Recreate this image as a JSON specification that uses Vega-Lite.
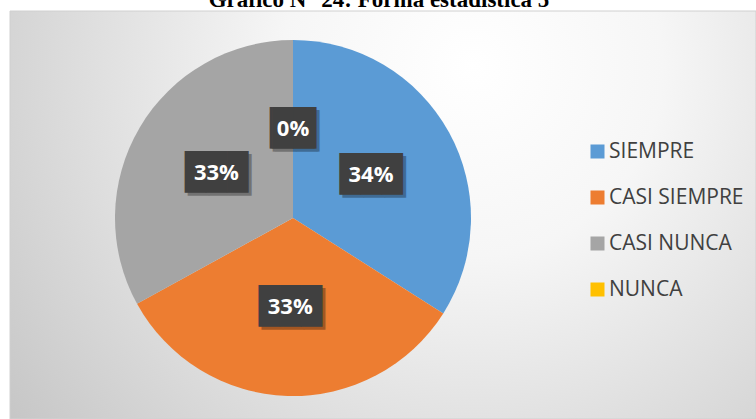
{
  "$schema": "https://vega.github.io/schema/vega-lite/v6.json",
  "autosize": {"type": "none"},
  "padding": {"left": 10, "top": 11, "right": 0, "bottom": 0},
  "width": 746,
  "height": 408,
  "background": "#ffffff",
  "title": {
    "text": "Gráfico N° 24: Forma estadística 5",
    "font": "Liberation Serif",
    "fontSize": 23,
    "fontWeight": "bold",
    "color": "#000000",
    "anchor": "middle",
    "offset": 4,
    "dy": 5,
    "dx": -4
  },
  "config": {
    "view": {"stroke": null},
    "legend": {
      "orient": "none",
      "legendX": 577,
      "legendY": 130,
      "padding": 0,
      "symbolType": "square",
      "symbolSize": 196,
      "symbolStrokeWidth": 0,
      "labelFont": "Open Sans",
      "labelFontSize": 21,
      "labelColor": "#404040",
      "labelOffset": 1,
      "rowPadding": 24
    }
  },
  "data": {
    "values": [
      {"categoria": "SIEMPRE", "orden": 1, "pct": 0.34},
      {"categoria": "CASI SIEMPRE", "orden": 2, "pct": 0.33},
      {"categoria": "CASI NUNCA", "orden": 3, "pct": 0.33},
      {"categoria": "NUNCA", "orden": 4, "pct": 0.0}
    ]
  },
  "layer": [
    {
      "data": {"values": [{"fondo": 1}]},
      "mark": {
        "type": "rect",
        "stroke": "#d0d0d0",
        "strokeWidth": 1,
        "color": {
          "gradient": "radial",
          "x1": 0.62, "y1": 0.3, "r1": 0,
          "x2": 0.62, "y2": 0.3, "r2": 0.85,
          "stops": [
            {"offset": 0, "color": "#ffffff"},
            {"offset": 0.3, "color": "#f6f6f6"},
            {"offset": 1, "color": "#c0c0c0"}
          ]
        }
      },
      "encoding": {}
    },
    {
      "mark": {"type": "arc", "outerRadius": 178, "xOffset": -90, "yOffset": 3},
      "encoding": {
        "theta": {"field": "pct", "type": "quantitative", "stack": true},
        "order": {"field": "orden", "type": "quantitative"},
        "color": {
          "field": "categoria",
          "type": "nominal",
          "title": null,
          "scale": {
            "domain": ["SIEMPRE", "CASI SIEMPRE", "CASI NUNCA", "NUNCA"],
            "range": ["#5B9BD5", "#ED7D31", "#A5A5A5", "#FFC000"]
          }
        }
      }
    },
    {
      "mark": {"type": "text", "font": "DejaVu Sans Mono", "fontSize": 35, "color": "#000000", "opacity": 0.3, "radius": 89, "xOffset": -87, "yOffset": 6, "align": "center", "baseline": "middle"},
      "encoding": {
        "theta": {"field": "pct", "type": "quantitative", "stack": true},
        "order": {"field": "orden", "type": "quantitative"},
        "text": {"condition": {"test": "datum.pct === 0", "value": "▕██▏"}, "value": "███"}
      }
    },
    {
      "mark": {"type": "text", "font": "DejaVu Sans Mono", "fontSize": 35, "color": "#404040", "radius": 89, "xOffset": -90, "yOffset": 3, "align": "center", "baseline": "middle"},
      "encoding": {
        "theta": {"field": "pct", "type": "quantitative", "stack": true},
        "order": {"field": "orden", "type": "quantitative"},
        "text": {"condition": {"test": "datum.pct === 0", "value": "▕██▏"}, "value": "███"}
      }
    },
    {
      "mark": {"type": "text", "font": "Open Sans", "fontSize": 22, "fontWeight": "bold", "color": "#ffffff", "radius": 89, "xOffset": -90, "yOffset": 3, "align": "center", "baseline": "middle"},
      "encoding": {
        "theta": {"field": "pct", "type": "quantitative", "stack": true},
        "order": {"field": "orden", "type": "quantitative"},
        "text": {"field": "pct", "type": "quantitative", "format": ".0%"}
      }
    }
  ]
}
